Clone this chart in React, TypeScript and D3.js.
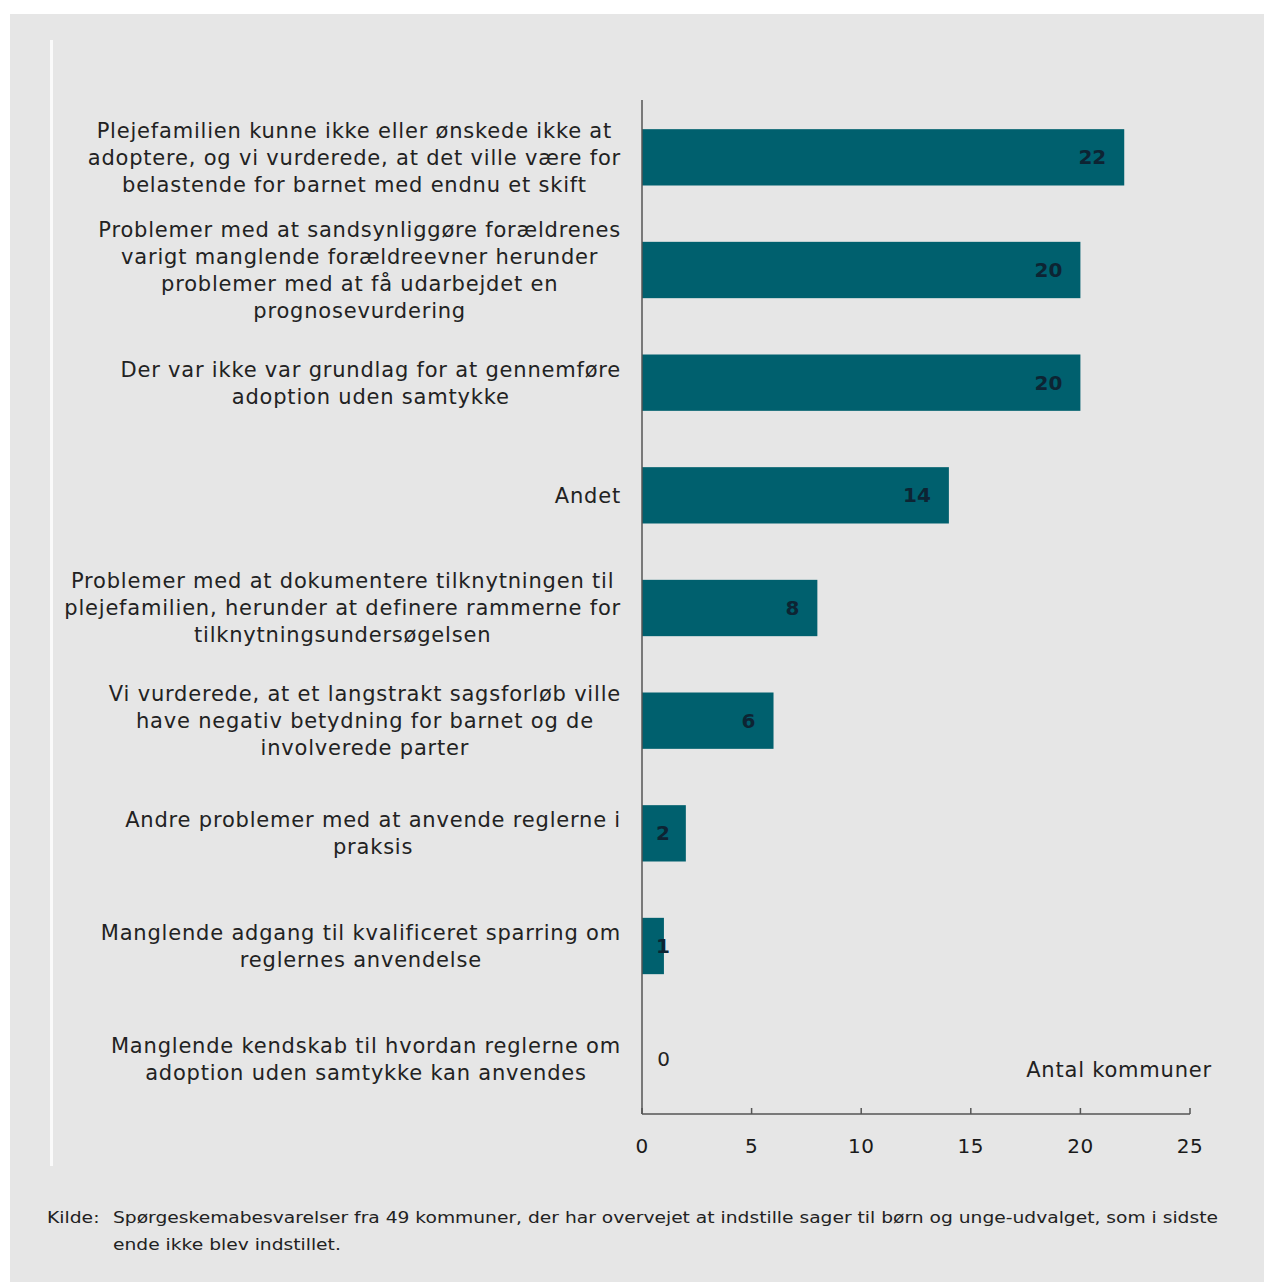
import React, { useEffect, useRef } from "react";
import * as d3 from "d3";

const categories: string[][] = [
  ["Plejefamilien kunne ikke eller ønskede ikke at", "adoptere, og vi vurderede, at det ville være for", "belastende for barnet med endnu et skift"],
  ["Problemer med at sandsynliggøre forældrenes", "varigt manglende forældreevner herunder", "problemer med at få udarbejdet en", "prognosevurdering"],
  ["Der var ikke var grundlag for at gennemføre", "adoption uden samtykke"],
  ["Andet"],
  ["Problemer med at dokumentere tilknytningen til", "plejefamilien, herunder at definere rammerne for", "tilknytningsundersøgelsen"],
  ["Vi vurderede, at et langstrakt sagsforløb ville", "have negativ betydning for barnet og de", "involverede parter"],
  ["Andre problemer med at anvende reglerne i", "praksis"],
  ["Manglende adgang til kvalificeret sparring om", "reglernes anvendelse"],
  ["Manglende kendskab til hvordan reglerne om", "adoption uden samtykke kan anvendes"],
];
const values: number[] = [22, 20, 20, 14, 8, 6, 2, 1, 0];
const xTicks: number[] = [0, 5, 10, 15, 20, 25];
const axisTitle = "Antal kommuner";
const sourceLabel = "Kilde:";
const sourceLines: string[] = [
  "Spørgeskemabesvarelser fra 49 kommuner, der har overvejet at indstille sager til børn og unge-udvalget, som i sidste",
  "ende ikke blev indstillet.",
];

const W = 1264;
const H = 1282;
const FONT = "'DejaVu Sans', Verdana, sans-serif";

export default function App() {
  const ref = useRef<SVGSVGElement | null>(null);

  useEffect(() => {
    const svg = d3.select(ref.current);
    svg.selectAll("*").remove();

    // background
    svg.append("rect").attr("x", 0).attr("y", 0).attr("width", W).attr("height", H).attr("fill", "#ffffff");
    svg.append("rect").attr("x", 10).attr("y", 14).attr("width", W - 10).attr("height", H - 14).attr("fill", "#e6e6e6");
    svg.append("rect").attr("x", 50).attr("y", 40).attr("width", 3).attr("height", 1126).attr("fill", "#fafafa");

    const x = d3.scaleLinear().domain([0, 25]).range([642, 1190]);
    const y = d3
      .scaleBand<number>()
      .domain(values.map((_, i) => i))
      .range([101, 1115])
      .paddingInner(0.5)
      .paddingOuter(0.25);

    // bars
    svg
      .append("g")
      .selectAll("rect")
      .data(values)
      .join("rect")
      .attr("x", x(0))
      .attr("y", (_, i) => y(i)!)
      .attr("width", (d) => x(d) - x(0))
      .attr("height", y.bandwidth())
      .attr("fill", "#00606e");

    // value labels
    svg
      .append("g")
      .selectAll("text")
      .data(values)
      .join("text")
      .attr("x", (d) => Math.max(x(d) - 18, x(0) + 28))
      .attr("y", (_, i) => y(i)! + y.bandwidth() / 2)
      .attr("dy", "0.35em")
      .attr("text-anchor", "end")
      .attr("font-family", FONT)
      .attr("font-size", 20)
      .attr("font-weight", (d) => (d > 0 ? "bold" : "normal"))
      .attr("fill", (d) => (d > 0 ? "#0d2433" : "#222222"))
      .text((d) => String(d));

    // axes
    const axisColor = "#555555";
    svg
      .append("line")
      .attr("x1", x(0))
      .attr("x2", x(0))
      .attr("y1", 100)
      .attr("y2", 1114)
      .attr("stroke", axisColor)
      .attr("stroke-width", 1.5);
    svg
      .append("line")
      .attr("x1", x(0))
      .attr("x2", x(25))
      .attr("y1", 1114)
      .attr("y2", 1114)
      .attr("stroke", axisColor)
      .attr("stroke-width", 1.5);
    const tg = svg.append("g");
    tg.selectAll("line")
      .data(xTicks)
      .join("line")
      .attr("x1", (d) => x(d))
      .attr("x2", (d) => x(d))
      .attr("y1", 1108)
      .attr("y2", 1114)
      .attr("stroke", axisColor)
      .attr("stroke-width", 1.5);
    tg.selectAll("text")
      .data(xTicks)
      .join("text")
      .attr("x", (d) => x(d))
      .attr("y", 1153)
      .attr("text-anchor", "middle")
      .attr("font-family", FONT)
      .attr("font-size", 20)
      .attr("letter-spacing", 0.5)
      .attr("fill", "#1a1a1a")
      .text((d) => String(d));

    svg
      .append("text")
      .attr("x", 1212)
      .attr("y", 1077)
      .attr("text-anchor", "end")
      .attr("font-family", FONT)
      .attr("font-size", 21)
      .attr("letter-spacing", 0.8)
      .attr("fill", "#222222")
      .text(axisTitle);

    // category labels
    const lineH = 27;
    const rightEdge = 621;
    const lg = svg.append("g");
    categories.forEach((lines, i) => {
      const cy = y(i)! + y.bandwidth() / 2;
      const texts = lines.map((ln, j) =>
        lg
          .append("text")
          .attr("y", cy + (j - (lines.length - 1) / 2) * lineH)
          .attr("dy", "0.35em")
          .attr("text-anchor", "middle")
          .attr("font-family", FONT)
          .attr("font-size", 21)
          .attr("letter-spacing", 0.8)
          .attr("fill", "#222222")
          .text(ln)
      );
      const maxW = d3.max(texts, (t) => (t.node() as SVGTextElement).getComputedTextLength()) || 0;
      texts.forEach((t) => t.attr("x", rightEdge - maxW / 2));
    });

    // source
    const SFONT = "'DejaVu Sans', sans-serif";
    const srcTexts = sourceLines.map((ln, j) =>
      svg
        .append("text")
        .attr("x", 113)
        .attr("y", 1223 + j * 27)
        .attr("font-family", SFONT)
        .attr("font-size", 15)
        .attr("fill", "#222222")
        .text(ln)
    );
    const kilde = svg
      .append("text")
      .attr("x", 47)
      .attr("y", 1223)
      .attr("font-family", SFONT)
      .attr("font-size", 15)
      .attr("fill", "#222222")
      .text(sourceLabel);
    const nat0 = (srcTexts[0].node() as SVGTextElement).getComputedTextLength();
    const ratio = 1105 / nat0;
    srcTexts.forEach((t) => {
      const n = (t.node() as SVGTextElement).getComputedTextLength();
      t.attr("textLength", n * ratio).attr("lengthAdjust", "spacingAndGlyphs");
    });
    const kn = (kilde.node() as SVGTextElement).getComputedTextLength();
    kilde.attr("textLength", Math.min(kn * 1.25, 56)).attr("lengthAdjust", "spacingAndGlyphs");
  }, []);

  return (
    <svg
      ref={ref}
      width={W}
      height={H}
      style={{ position: "absolute", left: 0, top: 0, display: "block" }}
    />
  );
}
